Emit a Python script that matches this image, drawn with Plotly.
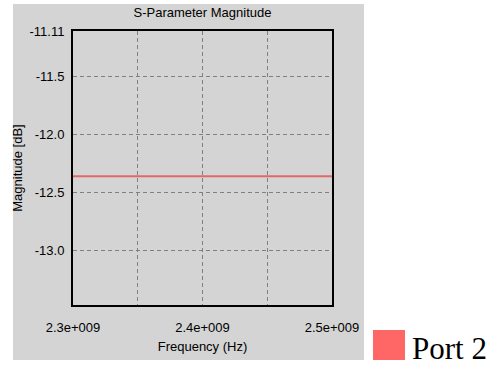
import plotly.graph_objects as go

# Swept frequency points (Hz) and |S| magnitude (dB) for Port 2
freq_hz = [2.3e9, 2.35e9, 2.4e9, 2.45e9, 2.5e9]
port2_db = [-12.36, -12.36, -12.36, -12.36, -12.36]

# Axis tick positions and labels
x_tickvals = [2.3e9, 2.35e9, 2.4e9, 2.45e9, 2.5e9]
x_ticktext = ["2.3e+009", "", "2.4e+009", "", "2.5e+009"]
y_tickvals = [-13.0, -12.5, -12.0, -11.5, -11.11]
y_ticktext = ["-13.0", "-12.5", "-12.0", "-11.5", "-11.11"]
y_range = [-13.466, -11.11]

series_name = "Port 2"
line_color = "#e06a6a"
legend_color = "#ff6666"
panel_color = "#d4d4d4"

W, H = 496, 365
L, R, T, B = 73, 332, 31, 305  # plot-area pixel edges
pw, ph = R - L, B - T


def px_x(x):
    return (x - L) / pw


def px_y(y):
    return (B - y) / ph


fig = go.Figure()
fig.add_trace(go.Scatter(
    x=freq_hz, y=port2_db, mode="lines", name=series_name,
    line=dict(color=line_color, width=2), showlegend=False,
))

axis_font = dict(family="Liberation Sans, Arial, sans-serif", size=13, color="#000000")

fig.update_layout(
    width=W, height=H,
    margin=dict(l=L, r=W - R, t=T, b=H - B, pad=0),
    paper_bgcolor="#ffffff",
    plot_bgcolor=panel_color,
    font=axis_font,
    title=dict(text="S-Parameter Magnitude", x=(L + R) / 2 / W, xanchor="center",
               y=1 - 12 / H, yanchor="middle", font=axis_font),
    xaxis=dict(
        range=[freq_hz[0], freq_hz[-1]], tickmode="array",
        tickvals=x_tickvals, ticktext=x_ticktext,
        showgrid=True, gridcolor="#808080", griddash="4px,3px", gridwidth=1,
        showline=True, linecolor="#000000", linewidth=2, mirror=True,
        ticks="outside", ticklen=9, tickcolor="rgba(0,0,0,0)",
        zeroline=False,
        title=dict(text="Frequency (Hz)", font=axis_font, standoff=8),
    ),
    yaxis=dict(
        range=y_range, tickmode="array",
        tickvals=y_tickvals, ticktext=y_ticktext,
        showgrid=True, gridcolor="#808080", griddash="4px,3px", gridwidth=1,
        showline=True, linecolor="#000000", linewidth=2, mirror=True,
        ticks="outside", ticklen=4, tickcolor="rgba(0,0,0,0)",
        zeroline=False,
        title=dict(text="Magnitude [dB]", font=axis_font, standoff=4),
    ),
)

# Grey chart panel behind the plot
fig.add_shape(type="rect", xref="paper", yref="paper", layer="below",
              x0=px_x(13), x1=px_x(364), y0=px_y(360), y1=px_y(4),
              fillcolor=panel_color, line=dict(width=0))

# Legend swatch and label
fig.add_shape(type="rect", xref="paper", yref="paper",
              x0=px_x(373), x1=px_x(405), y0=px_y(360), y1=px_y(330),
              fillcolor=legend_color, line=dict(width=0))
fig.add_annotation(xref="paper", yref="paper", x=px_x(410), y=px_y(348),
                   xanchor="left", yanchor="middle", showarrow=False,
                   text=series_name,
                   font=dict(family="Liberation Serif, Times New Roman, serif",
                             size=31, color="#000000"))

fig.write_html("out.html")
